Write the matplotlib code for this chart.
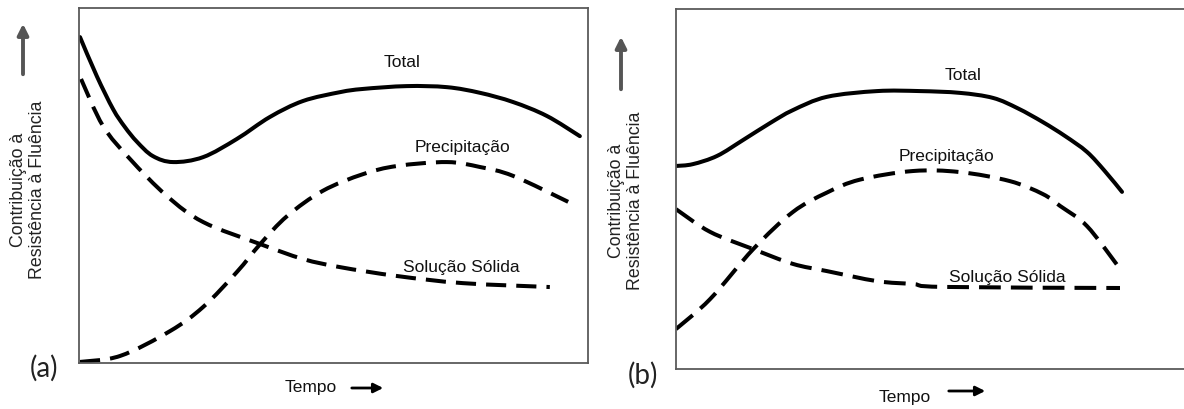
import matplotlib
matplotlib.use("Agg")
import matplotlib.pyplot as plt
from matplotlib.path import Path
from matplotlib.patches import PathPatch, FancyArrowPatch

# ---- curve data: time (0-100) vs. contribution (0-100) ----
# panel (a)
a_total_t = [0.2, 3.5, 6.7, 9.0, 11.4, 14.5, 18.5, 24.4, 31.0, 37.5, 44.0, 51.3, 55.8, 64.4, 72.3, 78.8, 85.3, 91.9, 98.4]
a_total_v = [91.8, 80.8, 71.5, 66.5, 62.3, 58.3, 56.6, 58.0, 63.1, 69.3, 73.8, 76.3, 77.2, 78.0, 77.7, 76.1, 73.5, 69.6, 63.9]

a_prec_t = [0.2, 8.1, 17.9, 24.4, 31.0, 35.6, 40.9, 47.9, 55.8, 62.5, 72.3, 78.8, 85.3, 96.1]
a_prec_v = [0.3, 2.0, 9.0, 15.8, 25.6, 33.5, 41.4, 48.5, 53.2, 55.5, 56.6, 55.2, 52.7, 45.4]

a_sol_t = [0.4, 4.7, 10.0, 17.3, 24.4, 35.6, 44.0, 51.3, 62.5, 75.4, 92.5]
a_sol_v = [80.0, 66.8, 57.5, 47.0, 39.7, 33.5, 29.3, 27.0, 24.5, 22.5, 21.4]

# panel (b)
b_total_t = [0.0, 3.3, 8.1, 13.2, 18.5, 23.0, 29.7, 39.6, 48.0, 55.9, 62.4, 67.3, 72.2, 76.6, 80.9, 84.4, 87.8]
b_total_v = [56.4, 56.9, 59.2, 63.6, 68.3, 71.9, 75.6, 77.2, 77.2, 76.7, 75.3, 72.4, 68.6, 64.7, 60.3, 55.0, 49.2]

b_prec_t = [0.0, 6.7, 15.2, 23.0, 29.7, 36.2, 46.7, 55.9, 65.7, 72.2, 75.6, 80.9, 87.0]
b_prec_v = [11.1, 19.4, 33.3, 43.6, 49.0, 52.6, 55.0, 54.7, 52.2, 48.6, 45.3, 39.7, 28.6]

b_sol_t = [0.0, 6.7, 15.2, 23.0, 29.7, 39.6, 46.7, 52.6, 87.4]
b_sol_v = [44.4, 38.1, 33.3, 29.2, 27.2, 24.4, 23.6, 22.8, 22.5]

curve_names = ["Total", "Precipitação", "Solução Sólida"]
y_label = "Contribuição à\nResistência à Fluência"
x_label = "Tempo"
panel_tags = ["(a)", "(b)"]

FONT = "Liberation Sans"
W, H = 1184, 410


def fx(px):
    return px / W


def fy(py):
    return 1 - py / H


def smooth_curve(ax, xs, ys, **kw):
    """Draw a smooth cubic Bezier path passing through every (x, y) point."""
    pts = list(zip(xs, ys))
    n = len(pts)
    verts = [pts[0]]
    codes = [Path.MOVETO]
    for i in range(n - 1):
        p0 = pts[max(i - 1, 0)]
        p1 = pts[i]
        p2 = pts[i + 1]
        p3 = pts[min(i + 2, n - 1)]
        c1 = (p1[0] + (p2[0] - p0[0]) / 6, p1[1] + (p2[1] - p0[1]) / 6)
        c2 = (p2[0] - (p3[0] - p1[0]) / 6, p2[1] - (p3[1] - p1[1]) / 6)
        verts += [c1, c2, p2]
        codes += [Path.CURVE4] * 3
    patch = PathPatch(Path(verts, codes), fill=False, **kw)
    ax.add_patch(patch)
    return patch


fig = plt.figure(figsize=(W / 100, H / 100), dpi=100)
fig.patch.set_facecolor("white")

ax_a = fig.add_axes([fx(79), fy(364), 509 / W, 355 / H])
ax_b = fig.add_axes([fx(676), fy(370), 508 / W, 360 / H])

frame_color = "#5a5a5a"
for ax in (ax_a, ax_b):
    ax.set_xlim(0, 100)
    ax.set_ylim(0, 100)
    ax.set_xticks([])
    ax.set_yticks([])
    for sp in ax.spines.values():
        sp.set_color(frame_color)
        sp.set_linewidth(1.3)
ax_b.spines["right"].set_visible(False)

lw = 2.9
solid = dict(edgecolor="black", lw=lw, capstyle="round", joinstyle="round")
dash_a = dict(edgecolor="black", lw=lw, linestyle=(0, (5.0, 2.5)), capstyle="butt")
dash_b = dict(edgecolor="black", lw=lw, linestyle=(0, (5.4, 2.5)), capstyle="butt")

smooth_curve(ax_a, a_total_t, a_total_v, **solid)
smooth_curve(ax_a, a_prec_t, a_prec_v, **dash_a)
smooth_curve(ax_a, a_sol_t, a_sol_v, **dash_a)

smooth_curve(ax_b, b_total_t, b_total_v, **solid)
smooth_curve(ax_b, b_prec_t, b_prec_v, **dash_b)
smooth_curve(ax_b, b_sol_t, b_sol_v, **dash_b)

fs = 12.5
txt = dict(ha="center", va="center", fontsize=fs, family=FONT, color="#111111")
ax_a.text(63.5, 84.8, curve_names[0], **txt)
ax_a.text(75.4, 61.1, curve_names[1], **txt)
ax_a.text(75.2, 27.3, curve_names[2], **txt)

ax_b.text(56.5, 81.9, curve_names[0], **txt)
ax_b.text(53.3, 59.2, curve_names[1], **txt)
ax_b.text(65.2, 25.6, curve_names[2], **txt)

# y-axis labels and upward arrows
for (lx, ly, arx, ar_top, ar_bot) in [(28, 190, 23, 22, 78), (626, 201, 621, 35, 93)]:
    fig.text(fx(lx), fy(ly), y_label, rotation=90, ha="center", va="center",
             fontsize=12.8, family=FONT, color="#222222", linespacing=1.2)
    fig.add_artist(FancyArrowPatch(
        (fx(arx), fy(ar_bot)), (fx(arx), fy(ar_top)), transform=fig.transFigure,
        arrowstyle="-|>", mutation_scale=16, color="#555555", lw=2.8))

# x-axis labels with arrows
for (tx, ty, a0, a1, ay) in [(311, 388, 349, 386, 389), (905, 398, 946, 988, 392)]:
    fig.text(fx(tx), fy(ty), x_label, ha="center", va="center",
             fontsize=fs, family=FONT, color="#111111")
    fig.add_artist(FancyArrowPatch(
        (fx(a0), fy(ay)), (fx(a1), fy(ay)), transform=fig.transFigure,
        arrowstyle="-|>", mutation_scale=14, color="black", lw=2.0))

# panel tags
fig.text(fx(44), fy(368), panel_tags[0], ha="center", va="center", fontsize=20,
         family="Lato", color="#222222")
fig.text(fx(643), fy(375), panel_tags[1], ha="center", va="center", fontsize=20,
         family="Lato", color="#222222")

fig.savefig("out.png", dpi=100)
